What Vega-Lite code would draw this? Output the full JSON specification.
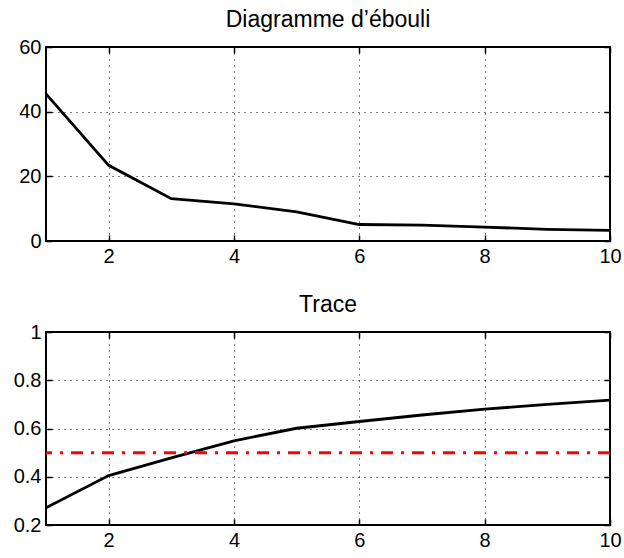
{
  "$schema": "https://vega.github.io/schema/vega-lite/v6.json",
  "background": "white",
  "padding": {"left": 12, "top": 8, "right": 2, "bottom": 2},
  "spacing": 26,
  "datasets": {
    "scree": [
      {"k": 1, "v": 45.5}, {"k": 2, "v": 23.4}, {"k": 3, "v": 13.1}, {"k": 4, "v": 11.5}, {"k": 5, "v": 9.0},
      {"k": 6, "v": 5.1}, {"k": 7, "v": 4.9}, {"k": 8, "v": 4.3}, {"k": 9, "v": 3.6}, {"k": 10, "v": 3.3}
    ],
    "trace": [
      {"k": 1, "v": 0.271}, {"k": 2, "v": 0.405}, {"k": 3, "v": 0.478}, {"k": 4, "v": 0.549}, {"k": 5, "v": 0.601},
      {"k": 6, "v": 0.629}, {"k": 7, "v": 0.656}, {"k": 8, "v": 0.680}, {"k": 9, "v": 0.700}, {"k": 10, "v": 0.718}
    ],
    "seuil": [{"v": 0.5}]
  },
  "config": {
    "font": "Liberation Sans",
    "view": {"stroke": "black", "strokeWidth": 2},
    "axis": {
      "title": null,
      "domain": false,
      "labelFont": "Liberation Sans",
      "labelFontSize": 20,
      "labelColor": "black",
      "tickColor": "black",
      "tickWidth": 1.5,
      "tickSize": -6,
      "labelPadding": 11,
      "grid": true,
      "gridColor": "black",
      "gridOpacity": 1,
      "gridWidth": 1,
      "gridDash": [1, 5],
      "labelFlush": false,
      "labelOverlap": false
    },
    "title": {"font": "Liberation Sans", "fontSize": 23, "fontWeight": "normal", "color": "black", "offset": 5}
  },
  "vconcat": [
    {
      "title": "Diagramme d’ébouli",
      "width": 564,
      "height": 194,
      "data": {"name": "scree"},
      "layer": [
        {
          "mark": {"type": "line", "color": "black", "strokeWidth": 2.8, "clip": true},
          "encoding": {
            "x": {"field": "k", "type": "quantitative", "scale": {"domain": [1, 10], "nice": false, "zero": false},
                  "axis": {"orient": "bottom", "values": [2, 4, 6, 8, 10]}},
            "y": {"field": "v", "type": "quantitative", "scale": {"domain": [0, 60], "nice": false},
                  "axis": {"orient": "left", "values": [0, 20, 40, 60]}}
          }
        },
        {
          "mark": {"type": "line", "opacity": 0},
          "encoding": {
            "x": {"field": "k", "type": "quantitative", "axis": {"orient": "top", "values": [2, 4, 6, 8, 10], "labels": false, "grid": false}},
            "y": {"field": "v", "type": "quantitative", "axis": {"orient": "right", "values": [0, 20, 40, 60], "labels": false, "grid": false}}
          }
        }
      ],
      "resolve": {"axis": {"x": "independent", "y": "independent"}}
    },
    {
      "title": "Trace",
      "width": 564,
      "height": 193,
      "layer": [
        {
          "data": {"name": "trace"},
          "mark": {"type": "line", "color": "black", "strokeWidth": 2.8, "clip": true},
          "encoding": {
            "x": {"field": "k", "type": "quantitative", "scale": {"domain": [1, 10], "nice": false, "zero": false},
                  "axis": {"orient": "bottom", "values": [2, 4, 6, 8, 10]}},
            "y": {"field": "v", "type": "quantitative", "scale": {"domain": [0.2, 1], "nice": false, "zero": false},
                  "axis": {"orient": "left", "values": [0.2, 0.4, 0.6, 0.8, 1], "format": "~g"}}
          }
        },
        {
          "data": {"name": "seuil"},
          "mark": {"type": "rule", "color": "#ff0000", "strokeWidth": 3, "strokeDash": [12, 8, 3, 8]},
          "encoding": {
            "y": {"field": "v", "type": "quantitative", "axis": {"orient": "right", "values": [0.2, 0.4, 0.6, 0.8, 1], "labels": false, "grid": false}}
          }
        },
        {
          "data": {"name": "trace"},
          "mark": {"type": "line", "opacity": 0},
          "encoding": {
            "x": {"field": "k", "type": "quantitative", "axis": {"orient": "top", "values": [2, 4, 6, 8, 10], "labels": false, "grid": false}},
            "y": {"field": "v", "type": "quantitative", "axis": null}
          }
        }
      ],
      "resolve": {"axis": {"x": "independent", "y": "independent"}}
    }
  ]
}
